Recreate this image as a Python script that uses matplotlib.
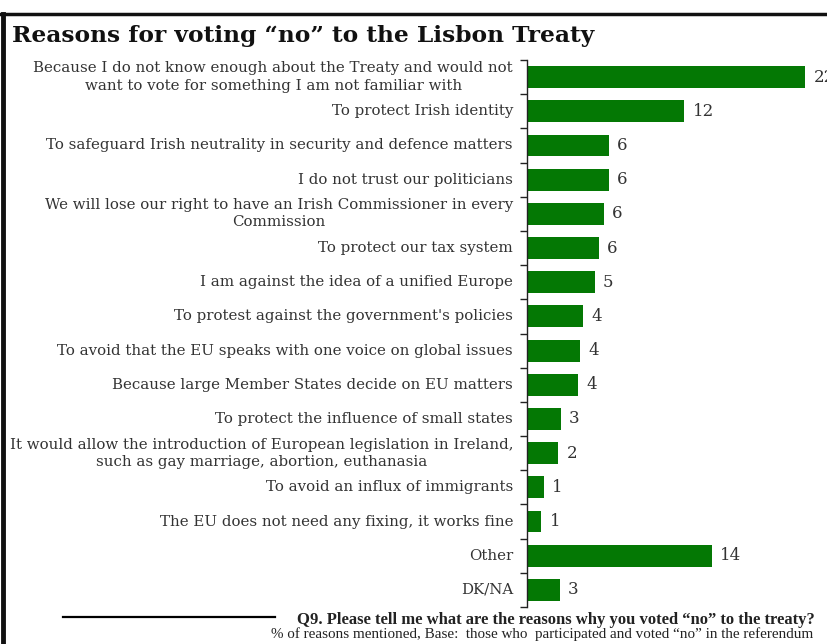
import matplotlib.pyplot as plt
from matplotlib.lines import Line2D

categories = [
    "Because I do not know enough about the Treaty and would not\nwant to vote for something I am not familiar with",
    "To protect Irish identity",
    "To safeguard Irish neutrality in security and defence matters",
    "I do not trust our politicians",
    "We will lose our right to have an Irish Commissioner in every\nCommission",
    "To protect our tax system",
    "I am against the idea of a unified Europe",
    "To protest against the government's policies",
    "To avoid that the EU speaks with one voice on global issues",
    "Because large Member States decide on EU matters",
    "To protect the influence of small states",
    "It would allow the introduction of European legislation in Ireland,\nsuch as gay marriage, abortion, euthanasia",
    "To avoid an influx of immigrants",
    "The EU does not need any fixing, it works fine",
    "Other",
    "DK/NA",
]
values = [21.4, 12.1, 6.3, 6.3, 5.9, 5.5, 5.2, 4.3, 4.1, 3.9, 2.6, 2.4, 1.3, 1.1, 14.2, 2.5]
value_labels = ["22", "12", "6", "6", "6", "6", "5", "4", "4", "4", "3", "2", "1", "1", "14", "3"]

title = "Reasons for voting \u201cno\u201d to the Lisbon Treaty"
note1 = "Q9. Please tell me what are the reasons why you voted \u201cno\u201d to the treaty?"
note2 = "% of reasons mentioned, Base:  those who  participated and voted \u201cno\u201d in the referendum"

W, H = 827, 644
fig = plt.figure(figsize=(W / 100, H / 100), dpi=100)
fig.patch.set_facecolor("white")

left_px, right_px, top_px, bot_px = 527, 827, 60, 607
ax = fig.add_axes([left_px / W, 1 - bot_px / H, (right_px - left_px) / W, (bot_px - top_px) / H])

n = len(categories)
ypos = list(range(n))
ax.barh(ypos, values, height=0.64, color="#047804", edgecolor="none")
ax.set_ylim(n - 0.5, -0.5)
ax.set_xlim(0, (right_px - left_px) / 13.0)

for s in ["top", "right", "bottom"]:
    ax.spines[s].set_visible(False)
ax.spines["left"].set_color("#222222")
ax.spines["left"].set_linewidth(1.0)
ax.set_xticks([])
ax.set_yticks([])
ax.set_yticks([i - 0.5 for i in range(n + 1)], minor=True)
ax.tick_params(axis="y", which="minor", length=5, width=1, color="#222222", labelleft=False)

for i, (cat, v, lab) in enumerate(zip(categories, values, value_labels)):
    ax.text(-14 / 13.0, i, cat, ha="right", va="center", multialignment="center",
            fontsize=10.8, family="DejaVu Serif", color="#333333", linespacing=1.3)
    ax.text(v + 0.65, i, lab, ha="left", va="center", fontsize=12,
            family="DejaVu Serif", color="#333333", clip_on=False)

fig.text(12 / W, 1 - 36 / H, title, ha="left", va="center", fontsize=16.8,
         fontweight="bold", family="DejaVu Serif", color="#111111")

fig.text(815 / W, 1 - 620 / H, note1, ha="right", va="center", fontsize=12,
         fontweight="bold", family="Liberation Serif", color="#222222")
fig.text(813 / W, 1 - 634 / H, note2, ha="right", va="center", fontsize=10.9,
         family="Liberation Serif", color="#222222")

# decorative lines
fig.add_artist(Line2D([63 / W, 275 / W], [1 - 617 / H, 1 - 617 / H], color="black", lw=1.6,
                      transform=fig.transFigure))
fig.add_artist(Line2D([0, 1], [1 - 14 / H, 1 - 14 / H], color="#111111", lw=2.5,
                      transform=fig.transFigure))
fig.add_artist(Line2D([2.5 / W, 2.5 / W], [0, 1 - 14 / H], color="#111111", lw=3.5,
                      transform=fig.transFigure))

fig.savefig("out.png", dpi=100)
